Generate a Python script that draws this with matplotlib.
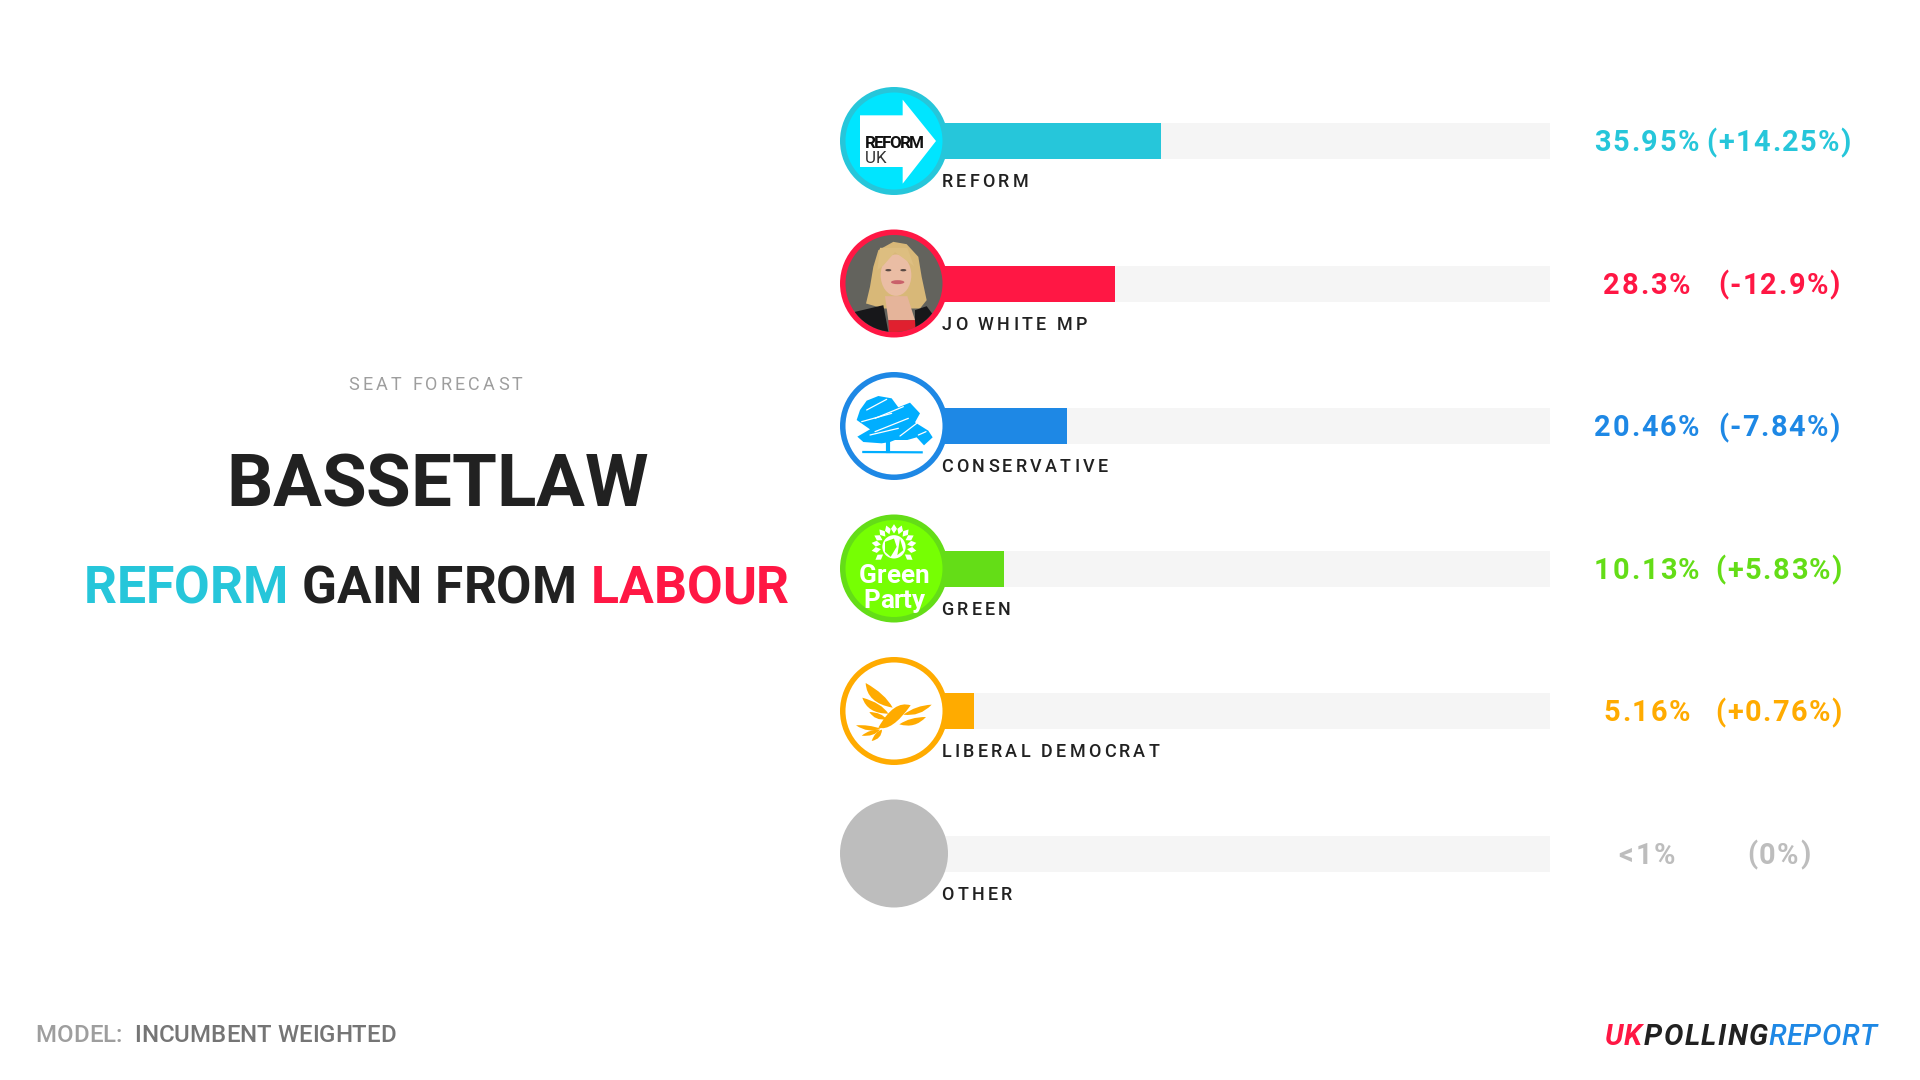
import matplotlib
matplotlib.use("Agg")
import numpy as np
import matplotlib.pyplot as plt
from matplotlib import font_manager as fm
from matplotlib.font_manager import FontProperties
from matplotlib.ft2font import LoadFlags, Kerning
from matplotlib.path import Path
from matplotlib.patches import Circle, Polygon, Ellipse, PathPatch
from matplotlib.text import Text
from matplotlib.transforms import Affine2D, IdentityTransform, Bbox

# ---- data ----
parties = ["REFORM", "JO WHITE MP", "CONSERVATIVE", "GREEN", "LIBERAL DEMOCRAT", "OTHER"]
shares = [35.95, 28.3, 20.46, 10.13, 5.16, 0.0]
share_labels = ["35.95%", "28.3%", "20.46%", "10.13%", "5.16%", "<1%"]
change_labels = ["(+14.25%)", "(-12.9%)", "(-7.84%)", "(+5.83%)", "(+0.76%)", "(0%)"]
colors = ["#26C6DA", "#FF1744", "#1E88E5", "#64DD17", "#FFAB00", "#BDBDBD"]
track_color = "#F5F5F5"
INK = "#212121"

W, H = 1920, 1080
plt.rcParams["font.family"] = ["Roboto", "DejaVu Sans"]
fig = plt.figure(figsize=(W / 100, H / 100), dpi=100, facecolor="white")

# ---- layout (pixels) ----
X0, X1 = 943, 1549.5
ROW0, STEP = 141.0, 142.5
top = ROW0 - STEP / 2
bottom = ROW0 + 5 * STEP + STEP / 2

# bars
ax = fig.add_axes([X0 / W, 1 - bottom / H, (X1 - X0) / W, (bottom - top) / H])
y = np.arange(len(parties))
ax.barh(y, [100] * len(y), left=0, height=36 / STEP, color=track_color, zorder=1)
ax.barh(y, shares, left=0, height=36 / STEP, color=colors, zorder=2)
ax.set_xlim(0, 100)
ax.set_ylim(len(y) - 0.5, -0.5)
ax.axis("off")

# overlay in pixel coordinates
ov = fig.add_axes([0, 0, 1, 1], facecolor="none")
ov.set_xlim(0, W)
ov.set_ylim(H, 0)
ov.axis("off")


class SpacedText(Text):
    """One text object, with letter-spacing applied when drawn."""

    def __init__(self, x, y, s, tracking=0.0, **kw):
        super().__init__(x, y, s, **kw)
        self.tracking = tracking

    def _layout(self):
        prop = self.get_fontproperties()
        font = fm.get_font(fm.findfont(prop))
        font.set_size(prop.get_size_in_points(), self.figure.dpi)
        s = self.get_text()
        lefts, pen, prev = [], 0.0, None
        for ch in s:
            idx = font.get_char_index(ord(ch))
            if prev is not None:
                pen += font.get_kerning(prev, idx, Kerning.DEFAULT) / 64
            lefts.append(pen)
            g = font.load_char(ord(ch), flags=LoadFlags.NO_HINTING)
            pen += g.linearHoriAdvance / 65536 + self.tracking
            prev = idx
        total = pen - self.tracking
        x, y = self.get_transform().transform(self.get_position())
        ha = self.get_ha()
        x0 = x - total / 2 if ha == "center" else (x - total if ha == "right" else x)
        return s, lefts, x0, y, total

    def draw(self, renderer):
        if not self.get_visible():
            return
        s, lefts, x0, y, _ = self._layout()
        for ch, l in zip(s, lefts):
            if ch == " ":
                continue
            t = Text(x0 + l, y, ch, transform=IdentityTransform(),
                     fontproperties=self.get_fontproperties(), color=self.get_color(),
                     va="baseline", ha="left", zorder=self.get_zorder())
            t.set_figure(self.figure)
            t.draw(renderer)

    def get_window_extent(self, renderer=None, dpi=None):
        bb = super().get_window_extent(renderer, dpi)
        _, _, x0, _, total = self._layout()
        return Bbox([[x0, bb.y0], [x0 + total, bb.y1]])


def txt(x, cy, s, px, color=INK, weight="normal", style="normal", ha="left",
        tracking=0.0, family=("Roboto", "DejaVu Sans"), zorder=10):
    """Text whose capitals are vertically centred on cy, size given in pixels."""
    prop = FontProperties(family=list(family), weight=weight, style=style, size=px * 0.72)
    t = SpacedText(x, cy + 0.355 * px, s, tracking=tracking, transform=ov.transData,
                   fontproperties=prop, color=color, ha=ha, va="baseline", zorder=zorder)
    ov.add_artist(t)
    return t


# ---- left block ----
txt(435.5, 384, "SEAT FORECAST", 18, "#9E9E9E", ha="center", tracking=3.15)
txt(437, 480.5, "BASSETLAW", 72.6, INK, weight="bold", ha="center")
txt(83.5, 585, "REFORM", 51.7, colors[0], weight="bold")
txt(301.5, 585, "GAIN FROM", 51.4, INK, weight="bold")
txt(590.5, 585, "LABOUR", 51.7, colors[1], weight="bold")

# ---- footer ----
txt(35.5, 1033.5, "MODEL:", 24, "#9E9E9E", weight="medium")
txt(134.5, 1033.5, "INCUMBENT WEIGHTED", 24, "#757575", weight="medium")
txt(1605, 1035, "UK", 29, colors[1], weight="bold", style="italic")
txt(1644, 1035, "POLLING", 29, INK, weight="bold", style="italic", tracking=1.4)
txt(1768, 1035, "REPORT", 29, colors[2], weight="medium", style="italic", tracking=0.7)

# ---- rows ----
CX, R = 894, 54
rows = [ROW0 + i * STEP for i in range(len(parties))]
for cy, name, c, a, b in zip(rows, parties, colors, share_labels, change_labels):
    txt(941.5, cy + 40, name, 18, "#212121", weight="medium", tracking=3.2)
    txt(1646.8, cy, a, 29, c, weight="bold", ha="center", tracking=1.8)
    txt(1778.8, cy, b, 29, c, weight="bold", ha="center", tracking=1.45)


def badge(cy, ring, fill):
    outer = Circle((CX, cy), R, fc=ring, ec="none", zorder=5)
    inner = Circle((CX, cy), R - 5.5, fc=fill, ec="none", zorder=6)
    ov.add_patch(outer)
    ov.add_patch(inner)
    return inner


def local(cy, zc):
    """Logo drawing space: zoomed reference units (3 per pixel) around a centre."""
    zx, zy = zc
    return Affine2D().translate(-zx, -zy).scale(1 / 3).translate(CX, cy) + ov.transData


def crescent(p0, p1, c1, c2, color, tr, z=7):
    path = Path([p0, c1, p1, c2, p0], [Path.MOVETO, Path.CURVE3, Path.CURVE3, Path.CURVE3, Path.CURVE3])
    pp = PathPatch(path, fc=color, ec="none", transform=tr, zorder=z)
    ov.add_patch(pp)
    return pp


# Reform badge
cy = rows[0]
badge(cy, colors[0], "#00E5FF")
tr = local(cy, (222, 212))
ov.add_patch(Polygon([(120, 135), (248, 135), (248, 88), (348, 212), (248, 340), (248, 290), (120, 290)],
                     fc="white", ec="none", transform=tr, zorder=7))
txt(CX - 29, cy + 0.5, "REFORM", 17, "#111111", weight="bold", tracking=-1.7, zorder=8)
txt(CX - 29, cy + 16, "UK", 17, "#333333", tracking=-0.8, zorder=8)

# Jo White badge (portrait)
cy = rows[1]
inner = badge(cy, colors[1], "#63635D")
tr = local(cy, (222, 212))
shapes = [
    (Polygon([(175, 112), (160, 162), (150, 222), (138, 272), (190, 287), (300, 287), (320, 262),
              (305, 192), (295, 132), (260, 94), (220, 87)], transform=tr), "#D8B878"),
    (Polygon([(195, 250), (262, 250), (285, 322), (205, 322)], transform=tr), "#E5B49A"),
    (Ellipse((228, 187), 92, 124, transform=tr), "#EABDA4"),
    (Polygon([(180, 105), (262, 105), (282, 160), (258, 142), (225, 118), (190, 158), (172, 172)], transform=tr),
     "#DDBE80"),
    (Polygon([(105, 297), (190, 277), (205, 357), (285, 357), (285, 292), (320, 280), (340, 307),
              (340, 372), (105, 372)], transform=tr), "#17171A"),
    (Polygon([(205, 322), (285, 322), (288, 372), (208, 372)], transform=tr), "#E0202F"),
    (Ellipse((205, 172), 18, 7, transform=tr), "#5A4A44"),
    (Ellipse((250, 172), 18, 7, transform=tr), "#5A4A44"),
    (Ellipse((233, 208), 40, 12, transform=tr), "#C9606A"),
]
for p, col in shapes:
    p.set(fc=col, ec="none", zorder=7)
    ov.add_patch(p)
    p.set_clip_path(inner)

# Conservative badge (tree)
cy = rows[2]
badge(cy, colors[2], "white")
tr = local(cy, (222, 198))
tree = "#00AEFF"
ov.add_patch(Polygon([(110, 180), (120, 150), (140, 122), (175, 108), (215, 115), (235, 142), (270, 128), (300, 160),
                      (285, 187), (325, 212), (338, 232), (312, 256), (290, 232), (262, 240), (225, 240),
                      (210, 246), (185, 250), (130, 246), (112, 230), (150, 208)],
                     fc=tree, ec="none", transform=tr, zorder=7))
for p0, p1 in [((140, 150), (200, 118)), ((165, 175), (250, 140)), ((125, 185), (215, 160)), ((165, 215), (265, 175)),
               ((240, 228), (290, 190)), ((150, 225), (235, 205)), ((295, 225), (318, 215))]:
    ov.plot([p0[0], p1[0]], [p0[1], p1[1]], color="white", lw=0.9, solid_capstyle="round", transform=tr, zorder=8)
ov.plot([205, 205], [245, 272], color=tree, lw=3, transform=tr, zorder=7)
ov.plot([130, 305], [276, 277], color=tree, lw=1.6, transform=tr, zorder=7)

# Green badge
cy = rows[3]
badge(cy, colors[3], "#76FF03")
tr = local(cy, (222, 625))
for deg in [-170, -150, -130, -110, -90, -70, -50, -30, -10, 10, 35, 145, 170]:
    ang = np.deg2rad(deg)
    d = np.array([np.cos(ang), np.sin(ang)])
    n = np.array([-d[1], d[0]])
    c = np.array([222, 560])
    a, m, b = c + d * 40, c + d * 54, c + d * 68
    ov.add_patch(Polygon([a, m + n * 9, b, m - n * 9], fc="white", ec="none", transform=tr, zorder=7))
ov.add_patch(Circle((222, 560), 35, fc="white", ec="none", transform=tr, zorder=7))
ov.add_patch(Polygon([(195, 545), (222, 535), (230, 560), (212, 590), (195, 575)], fc="#76FF03", ec="none",
                     transform=tr, zorder=8))
ov.add_patch(Polygon([(240, 535), (250, 570), (232, 585)], fc="#76FF03", ec="none", transform=tr, zorder=8))
txt(CX, cy + 5, "Green", 26, "white", weight="bold", ha="center", zorder=8)
txt(CX, cy + 30, "Party", 26, "white", weight="bold", ha="center", zorder=8)

# Liberal Democrat badge (bird)
cy = rows[4]
badge(cy, colors[4], "white")
tr = local(cy, (222, 182))
gold = colors[4]
for p0, p1, c1, c2 in [
    ((137, 98), (218, 172), (140, 158), (195, 130)),
    ((127, 142), (205, 190), (142, 190), (185, 158)),
    ((148, 185), (200, 207), (165, 212), (185, 186)),
    ((335, 163), (250, 193), (300, 200), (288, 165)),
    ((318, 200), (238, 222), (285, 236), (270, 200)),
    ((272, 165), (175, 232), (215, 245), (222, 148)),
    ((108, 225), (182, 235), (145, 250), (145, 222)),
    ((125, 256), (180, 238), (162, 260), (150, 236)),
    ((155, 272), (186, 238), (185, 266), (165, 243)),
]:
    crescent(p0, p1, c1, c2, gold, tr)

# Other badge
ov.add_patch(Circle((CX, rows[5]), R, fc=colors[5], ec="none", zorder=5))

fig.savefig("out.png", dpi=100, facecolor="white")
